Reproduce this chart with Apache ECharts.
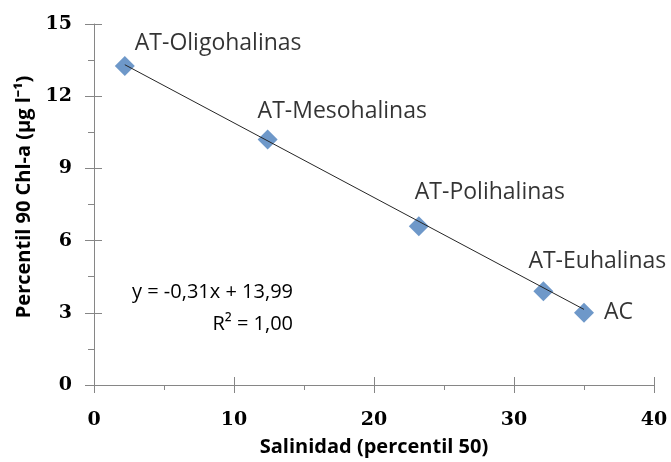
<!DOCTYPE html>
<html>
<head>
<meta charset="utf-8">
<script src="https://cdn.jsdelivr.net/npm/echarts@6/dist/echarts.min.js"></script>
<style>
  html, body { margin: 0; padding: 0; background: #ffffff; }
  #chart { width: 671px; height: 462px; }
</style>
</head>
<body>
<div id="chart"></div>
<script>
// Water body types and their salinity (P50) vs chlorophyll-a (P90)
const categories = ['AT-Oligohalinas', 'AT-Mesohalinas', 'AT-Polihalinas', 'AT-Euhalinas', 'AC'];
const salinity = [2.2, 12.4, 23.2, 32.1, 35.0];
const chlorophyll = [13.25, 10.2, 6.6, 3.9, 3.0];

// Linear trend shown on the chart
const trendSlope = -0.31;
const trendIntercept = 13.99;
const trendR2 = 1.00;

// Axis ticks
const yTicks = [0, 3, 6, 9, 12, 15];
const xTicks = [0, 10, 20, 30, 40];

// Axis titles
const xTitle = 'Salinidad (percentil 50)';
const yTitle = 'Percentil 90 Chl-a (µg l⁻¹)';

// Label placement per point (pixels from marker centre)
const labelOffsets = [[10, -23], [-10, -28], [-4, -34], [-15, -30], [20, 0]];

const fmt = v => v.toFixed(2).replace('.', ',');
const eqLine1 = 'y = ' + fmt(trendSlope) + 'x + ' + fmt(trendIntercept);
const eqLine2 = 'R² = ' + fmt(trendR2);

const xMin = Math.min(...salinity), xMax = Math.max(...salinity);
const trendData = [
  [xMin, trendSlope * xMin + trendIntercept],
  [xMax, trendSlope * xMax + trendIntercept]
];

const axisColor = '#868686';
const tickFont = { fontFamily: 'DejaVu Serif', fontWeight: 'bold', fontSize: 19, color: '#000' };
const titleFont = { fontFamily: 'Open Sans', fontWeight: 'bold', fontSize: 20, color: '#000' };

const chart = echarts.init(document.getElementById('chart'), null, { renderer: 'canvas' });

const pointData = categories.map((name, i) => ({
  name: name,
  value: [salinity[i], chlorophyll[i]],
  label: {
    show: true,
    position: 'inside',
    align: 'left',
    verticalAlign: 'middle',
    offset: labelOffsets[i],
    formatter: name
  }
}));

const eqStyle = { fontFamily: 'Open Sans', fontSize: 20, fill: '#000', align: 'right', verticalAlign: 'middle' };

chart.setOption({
  animation: false,
  backgroundColor: '#ffffff',
  grid: { left: 94, right: 17, top: 24, bottom: 76, containLabel: false },
  xAxis: [
    {
      type: 'value',
      min: xTicks[0], max: xTicks[xTicks.length - 1], interval: 10,
      position: 'bottom',
      name: xTitle,
      nameLocation: 'middle', nameGap: 52,
      nameTextStyle: titleFont,
      axisLine: { show: true, lineStyle: { color: axisColor, width: 1 } },
      axisTick: { show: true, inside: false, length: 8, lineStyle: { color: axisColor } },
      minorTick: { show: true, splitNumber: 2, length: 5, lineStyle: { color: axisColor } },
      axisLabel: { ...tickFont, margin: 26 },
      splitLine: { show: false },
      minorSplitLine: { show: false }
    },
    {
      type: 'value',
      min: xTicks[0], max: xTicks[xTicks.length - 1], interval: 10,
      position: 'bottom', offset: 0,
      axisLine: { show: false },
      axisTick: { show: true, inside: true, length: 8, lineStyle: { color: axisColor } },
      axisLabel: { show: false },
      splitLine: { show: false }
    }
  ],
  yAxis: [
    {
      type: 'value',
      min: yTicks[0], max: yTicks[yTicks.length - 1], interval: 3,
      position: 'left',
      axisLine: { show: true, lineStyle: { color: axisColor, width: 1 } },
      axisTick: { show: true, inside: false, length: 9, lineStyle: { color: axisColor } },
      minorTick: { show: true, splitNumber: 2, length: 6, lineStyle: { color: axisColor } },
      axisLabel: { ...tickFont, margin: 22 },
      splitLine: { show: false },
      minorSplitLine: { show: false }
    },
    {
      type: 'value',
      min: yTicks[0], max: yTicks[yTicks.length - 1], interval: 3,
      position: 'left', offset: 0,
      axisLine: { show: false },
      axisTick: { show: true, inside: true, length: 8, lineStyle: { color: axisColor } },
      axisLabel: { show: false },
      splitLine: { show: false }
    }
  ],
  graphic: [
    {
      type: 'text', x: 24, y: 197, rotation: Math.PI / 2, z: 10,
      style: {
        text: yTitle, align: 'center', verticalAlign: 'middle',
        fontFamily: titleFont.fontFamily, fontWeight: 'bold', fontSize: 20, fill: '#000'
      }
    },
    { type: 'text', x: 293, y: 292, z: 10, style: { ...eqStyle, text: eqLine1 } },
    { type: 'text', x: 293, y: 324, z: 10, style: { ...eqStyle, text: eqLine2 } }
  ],
  series: [
    {
      type: 'scatter',
      xAxisIndex: 0, yAxisIndex: 0,
      symbol: 'diamond',
      symbolSize: 20,
      itemStyle: { color: '#4A7EBB' },
      label: { fontFamily: 'Open Sans', fontSize: 23, color: '#000' },
      data: pointData,
      z: 2
    },
    {
      type: 'line',
      xAxisIndex: 0, yAxisIndex: 0,
      data: trendData,
      symbol: 'none',
      lineStyle: { color: '#262626', width: 1 },
      z: 5,
      silent: true
    }
  ]
});
</script>
</body>
</html>
